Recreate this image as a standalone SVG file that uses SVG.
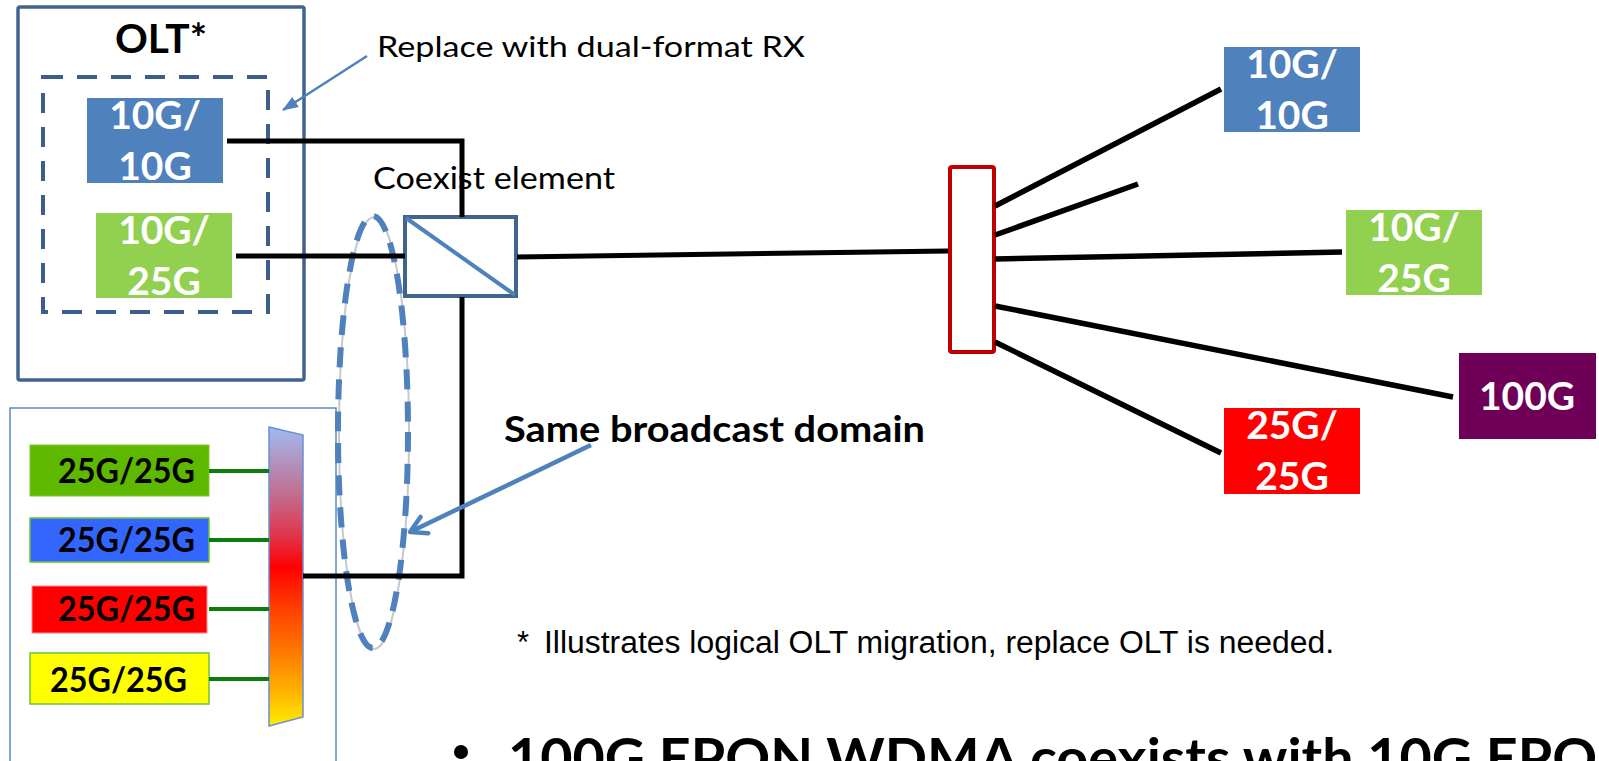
<svg xmlns="http://www.w3.org/2000/svg" width="1599" height="761" viewBox="0 0 1599 761">
<style>
.lbl{font-family:Lato,"Open Sans","Liberation Sans",sans-serif;font-weight:bold;fill:#fff;font-size:39px;text-anchor:middle}
.lbl25{font-family:Lato,"Open Sans","Liberation Sans",sans-serif;font-weight:bold;fill:#000;font-size:34px}
.reg{font-family:Lato,"Open Sans","Liberation Sans",sans-serif;fill:#000}
.wire{stroke:#000;stroke-width:5;fill:none}
.fib{stroke:#000;stroke-width:5.5;fill:none}
.grn{stroke:#0a7d0a;stroke-width:4}
.callout{stroke:#4f81bd;fill:none}
</style>
<defs>
<linearGradient id="mux" x1="0" y1="0" x2="0" y2="1">
<stop offset="0" stop-color="#a0baf3"/>
<stop offset="0.22" stop-color="#c07090"/>
<stop offset="0.36" stop-color="#e0364e"/>
<stop offset="0.47" stop-color="#ff0000"/>
<stop offset="0.6" stop-color="#ff3c00"/>
<stop offset="0.75" stop-color="#ff7800"/>
<stop offset="0.88" stop-color="#ffb000"/>
<stop offset="1" stop-color="#ffee00"/>
</linearGradient>
<marker id="tri" markerUnits="userSpaceOnUse" markerWidth="16" markerHeight="12" refX="15" refY="6" orient="auto">
<path d="M0,0 L16,6 L0,12 z" fill="#4f81bd"/>
</marker>
<marker id="vee" markerUnits="userSpaceOnUse" markerWidth="24" markerHeight="24" refX="20" refY="12" orient="auto">
<path d="M4,3 L20,12 L4,21" fill="none" stroke="#4f81bd" stroke-width="4.5" stroke-linecap="round" stroke-linejoin="round"/>
</marker>
</defs>
<rect width="1599" height="761" fill="#fff"/>

<g id="olt">
<rect x="18" y="7" width="286" height="373" rx="2" fill="none" stroke="#41648f" stroke-width="3.5"/>
<text class="reg" x="161" y="53" font-size="40" font-weight="bold" text-anchor="middle" textLength="92" lengthAdjust="spacingAndGlyphs">OLT*</text>
</g>
<g id="rx-group">
<rect x="43" y="77" width="225" height="235" fill="none" stroke="#3b5e8c" stroke-width="4" stroke-dasharray="20 14"/>
</g>
<g id="olt-10g10g">
<rect x="87" y="98" width="136" height="85" fill="#4f81bd"/>
<text class="lbl" x="155" y="129">10G/</text>
<text class="lbl" x="155" y="180">10G</text>
</g>
<g id="olt-10g25g">
<rect x="96" y="213" width="136" height="85" fill="#92d050"/>
<text class="lbl" x="164" y="244">10G/</text>
<text class="lbl" x="164" y="295">25G</text>
</g>

<g id="wdm-olt">
<rect x="10" y="408" width="326" height="380" fill="none" stroke="#5b8ac6" stroke-width="1.5"/>
</g>
<g id="olt-25g-green">
<rect x="30" y="445" width="179" height="51" fill="#5fb800" stroke="#7ccc30" stroke-width="1"/>
<text class="lbl25" x="58" y="483" textLength="137" lengthAdjust="spacingAndGlyphs">25G/25G</text>
</g>
<g id="olt-25g-blue">
<rect x="30" y="518" width="179" height="44" fill="#3366ff" stroke="#6cc33a" stroke-width="1.5"/>
<text class="lbl25" x="58" y="552" textLength="137" lengthAdjust="spacingAndGlyphs">25G/25G</text>
</g>
<g id="olt-25g-red">
<rect x="32" y="586" width="175" height="47" fill="#ff0000" stroke="#ff8a8a" stroke-width="1"/>
<text class="lbl25" x="58" y="621" textLength="137" lengthAdjust="spacingAndGlyphs">25G/25G</text>
</g>
<g id="olt-25g-yellow">
<rect x="30" y="653" width="179" height="51" fill="#ffff00" stroke="#6cc33a" stroke-width="1.5"/>
<text class="lbl25" x="50" y="692" textLength="137" lengthAdjust="spacingAndGlyphs">25G/25G</text>
</g>
<g id="wdm-mux">
<polygon points="269,427 303,435 303,717 269,726" fill="url(#mux)" stroke="#6b8fcf" stroke-width="1.5"/>
</g>

<g id="broadcast-domain">
<ellipse cx="374" cy="433" rx="35" ry="216" fill="none" stroke="#c8c8c8" stroke-width="2"/>
<ellipse cx="373" cy="432" rx="35" ry="216" fill="none" stroke="#4f81bd" stroke-width="6" stroke-dasharray="20 12"/>
</g>

<g id="coexist">
<rect x="405" y="217" width="111" height="79" fill="#fff" stroke="#41648f" stroke-width="4"/>
<line x1="406" y1="218" x2="515" y2="295" stroke="#4f81bd" stroke-width="4"/>
<text class="reg" x="373" y="189" font-size="31" textLength="242" lengthAdjust="spacingAndGlyphs">Coexist element</text>
</g>

<g id="splitter">
<rect x="950" y="167" width="44" height="185" rx="2" fill="#fff" stroke="#c00000" stroke-width="4"/>
</g>

<g id="onu-10g10g">
<rect x="1224" y="47" width="136" height="85" fill="#4f81bd"/>
<text class="lbl" x="1292" y="78">10G/</text>
<text class="lbl" x="1292" y="129">10G</text>
</g>
<g id="onu-10g25g">
<rect x="1346" y="210" width="136" height="85" fill="#92d050"/>
<text class="lbl" x="1414" y="241">10G/</text>
<text class="lbl" x="1414" y="292">25G</text>
</g>
<g id="onu-100g">
<rect x="1459" y="353" width="137" height="86" fill="#6f0058"/>
<text class="lbl" x="1527" y="410" font-size="39">100G</text>
</g>
<g id="onu-25g25g">
<rect x="1224" y="408" width="136" height="86" fill="#ff0000"/>
<text class="lbl" x="1292" y="439">25G/</text>
<text class="lbl" x="1292" y="490">25G</text>
</g>

<g id="connectors">
<polyline class="wire" points="227,141 462,141 462,217"/>
<line class="wire" x1="236" y1="256" x2="405" y2="256"/>
<polyline class="wire" points="462,297 462,576 303,576"/>
<line class="wire" x1="517" y1="257" x2="948" y2="251"/>
<line class="fib" x1="995" y1="206" x2="1221" y2="89"/>
<line class="fib" x1="995" y1="235" x2="1138" y2="184"/>
<line class="fib" x1="995" y1="259" x2="1342" y2="252"/>
<line class="fib" x1="995" y1="306" x2="1453" y2="397"/>
<line class="fib" x1="995" y1="342" x2="1221" y2="453"/>
<line class="grn" x1="209" y1="471" x2="269" y2="471"/>
<line class="grn" x1="209" y1="540" x2="269" y2="540"/>
<line class="grn" x1="209" y1="609" x2="269" y2="609"/>
<line class="grn" x1="209" y1="679" x2="269" y2="679"/>
<line class="callout" stroke-width="2.5" x1="367" y1="56" x2="283" y2="110" marker-end="url(#tri)"/>
<line class="callout" stroke-width="4.5" x1="591" y1="445" x2="410" y2="532" marker-end="url(#vee)"/>
</g>

<g id="annotations">
<text class="reg" x="377" y="57" font-size="29" textLength="428" lengthAdjust="spacingAndGlyphs">Replace with dual-format RX</text>
<text class="reg" x="504" y="442" font-size="36" font-weight="bold" textLength="421" lengthAdjust="spacingAndGlyphs">Same broadcast domain</text>
<text font-family="'Liberation Sans',Arial,sans-serif" font-size="31" fill="#000"><tspan x="517" y="653">*</tspan><tspan x="544" y="653" textLength="790" lengthAdjust="spacingAndGlyphs">Illustrates logical OLT migration, replace OLT is needed.</tspan></text>
<circle cx="461" cy="752" r="7" fill="#000"/>
<text class="reg" x="508" y="777" font-size="54" font-weight="bold" textLength="1132" lengthAdjust="spacingAndGlyphs">100G EPON WDMA coexists with 10G EPON</text>
</g>
</svg>
